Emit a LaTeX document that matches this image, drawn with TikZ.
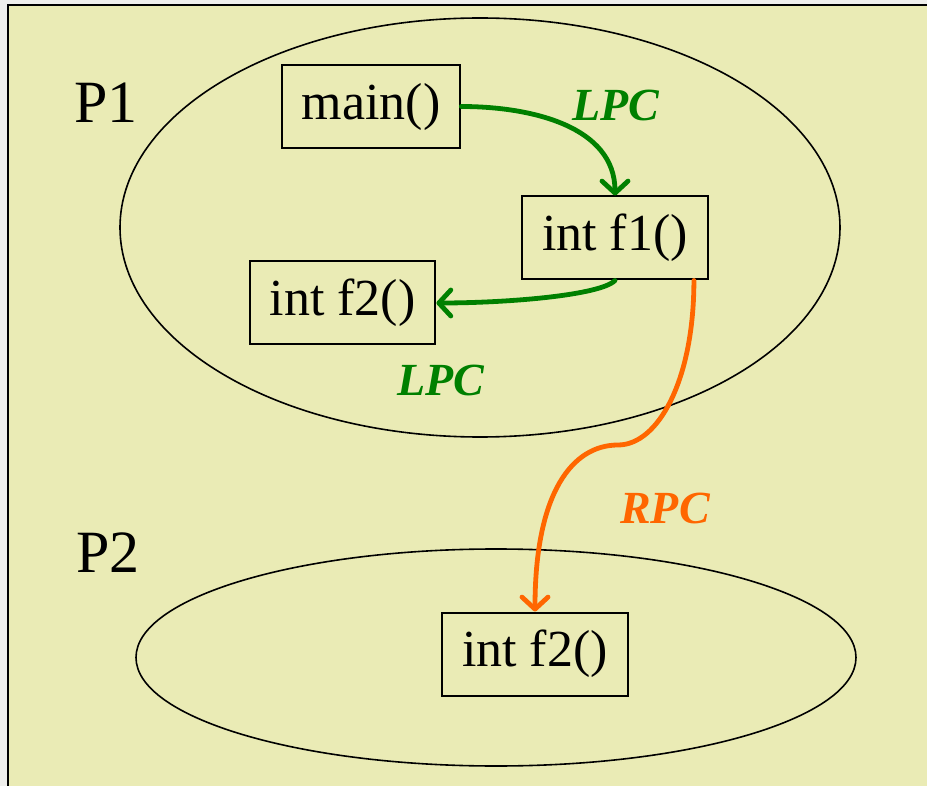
\documentclass[tikz,border=0pt]{standalone}
\usepackage{fontspec}
\setmainfont{Liberation Serif}
\usetikzlibrary{arrows.meta}
\definecolor{paper}{HTML}{EAEBB5}
\definecolor{margin}{HTML}{EFEFEC}
\definecolor{lpcgreen}{HTML}{008000}
\definecolor{rpcorange}{HTML}{FF6600}

\begin{document}
\begin{tikzpicture}[x=0.5pt,y=0.5pt,
    func/.style={draw,line width=1pt,inner xsep=10pt,minimum height=41.5pt,
      font=\fontsize{26}{30}\selectfont},
    proc/.style={font=\fontsize{30}{34}\selectfont},
    calltext/.style={font=\fontsize{23}{27}\selectfont\bfseries\itshape},
    lpc/.style={line width=2.4pt,draw=lpcgreen,line cap=round,
      -{Straight Barb[length=6pt,width=13pt,round]}},
    rpc/.style={line width=2.4pt,draw=rpcorange,line cap=round,
      -{Straight Barb[length=6pt,width=13pt,round]}}]
    % page
    \useasboundingbox (0,0) rectangle (927,-786);
    \fill[margin] (0,0) rectangle (927,-786);
    \fill[paper] (8,-5) rectangle (927,-786);
    \draw[line width=1pt] (8,-786) |- (927,-5);

    % processes
    \draw[line width=0.8pt] (480,-227.5) ellipse (360 and 209.5);
    \draw[line width=0.8pt] (496,-657.5) ellipse (360 and 108.5);
    \node[proc] (p1) at (106,-103) {P1};
    \node[proc] (p2) at (108,-553) {P2};

    % functions
    \node[func] (main) at (371,-106.5) {main()};
    \node[func] (f1) at (615,-238) {int f1()};
    \node[func] (f2) at (342.5,-303) {int f2()};
    \node[func] (rf2) at (535,-654) {int f2()};

    % calls
    \draw[lpc] (main.east) to[out=0,in=90] (f1.north);
    \draw[lpc] (f1.south) .. controls +(-15,-15) and +(70,0) .. (f2.east);
    \coordinate (rstart) at ([xshift=-7.5pt]f1.south east);
    \coordinate (rbend) at (618,-445);
    \draw[rpc] (rstart) .. controls +(0,-100) and +(40,0) .. (rbend)
      .. controls +(-45,0) and +(0,120) .. (rf2.north);

    \node[calltext,text=lpcgreen] (lpc1) at (616,-105) {LPC};
    \node[calltext,text=lpcgreen] (lpc2) at (441,-380) {LPC};
    \node[calltext,text=rpcorange] (rpc1) at (665,-508) {RPC};
\end{tikzpicture}
\end{document}
